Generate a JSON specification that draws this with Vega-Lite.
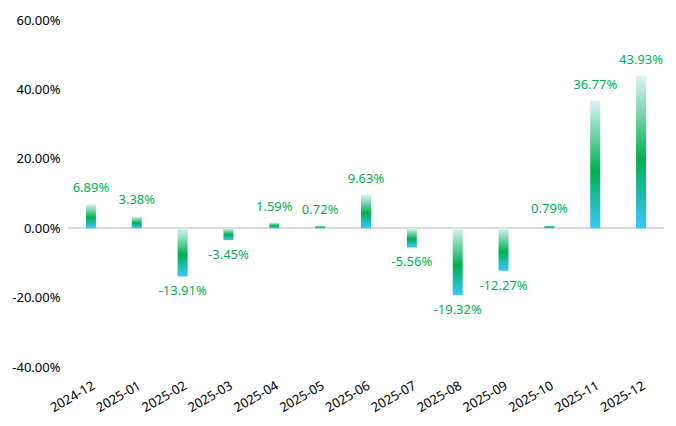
{
  "$schema": "https://vega.github.io/schema/vega-lite/v6.json",
  "autosize": "none",
  "width": 596,
  "height": 347,
  "padding": {"left": 68, "top": 20, "right": 12, "bottom": 59},
  "background": "white",
  "config": {
    "view": {"stroke": null},
    "font": "Noto Sans",
    "locale": {"number": {"decimal": ".", "thousands": ",", "grouping": [3], "currency": ["$", ""], "minus": "-", "percent": "%"}},
    "axis": {"labelFont": "Noto Sans", "labelFontSize": 13, "labelColor": "#000000"}
  },
  "data": {
    "values": [
      {"month": "2024-12", "v": 0.0689},
      {"month": "2025-01", "v": 0.0338},
      {"month": "2025-02", "v": -0.1391},
      {"month": "2025-03", "v": -0.0345},
      {"month": "2025-04", "v": 0.0159},
      {"month": "2025-05", "v": 0.0072},
      {"month": "2025-06", "v": 0.0963},
      {"month": "2025-07", "v": -0.0556},
      {"month": "2025-08", "v": -0.1932},
      {"month": "2025-09", "v": -0.1227},
      {"month": "2025-10", "v": 0.0079},
      {"month": "2025-11", "v": 0.3677},
      {"month": "2025-12", "v": 0.4393}
    ]
  },
  "encoding": {
    "x": {
      "field": "month", "type": "ordinal", "title": null, "sort": null,
      "scale": {"paddingInner": 0, "paddingOuter": 0},
      "axis": {"labelAngle": -30, "labelAlign": "right", "labelBaseline": "top", "domain": false, "ticks": false, "labelPadding": 12}
    }
  },
  "layer": [
    {
      "mark": {"type": "rule", "color": "#d9d9d9", "strokeWidth": 1},
      "encoding": {"x": null, "y": {"datum": 0, "type": "quantitative"}}
    },
    {
      "mark": {
        "type": "bar", "size": 10,
        "color": {
          "gradient": "linear", "x1": 0, "y1": 0, "x2": 0, "y2": 1,
          "stops": [
            {"offset": 0, "color": "#dcf3f8"},
            {"offset": 0.55, "color": "#00b050"},
            {"offset": 1, "color": "#38c8ff"}
          ]
        }
      },
      "encoding": {
        "y": {
          "field": "v", "type": "quantitative", "title": null,
          "scale": {"domain": [-0.4, 0.6], "nice": false, "zero": true},
          "axis": {"values": [-0.4, -0.2, 0, 0.2, 0.4, 0.6], "format": ".2%", "domain": false, "ticks": false, "grid": false, "labelPadding": 8}
        }
      }
    },
    {
      "transform": [{"filter": "datum.v >= 0"}],
      "mark": {"type": "text", "baseline": "bottom", "dy": -9, "color": "#00b050", "fontSize": 13},
      "encoding": {
        "y": {"field": "v", "type": "quantitative"},
        "text": {"field": "v", "type": "quantitative", "format": ".2%"}
      }
    },
    {
      "transform": [{"filter": "datum.v < 0"}],
      "mark": {"type": "text", "baseline": "top", "dy": 9, "color": "#00b050", "fontSize": 13},
      "encoding": {
        "y": {"field": "v", "type": "quantitative"},
        "text": {"field": "v", "type": "quantitative", "format": ".2%"}
      }
    }
  ]
}
